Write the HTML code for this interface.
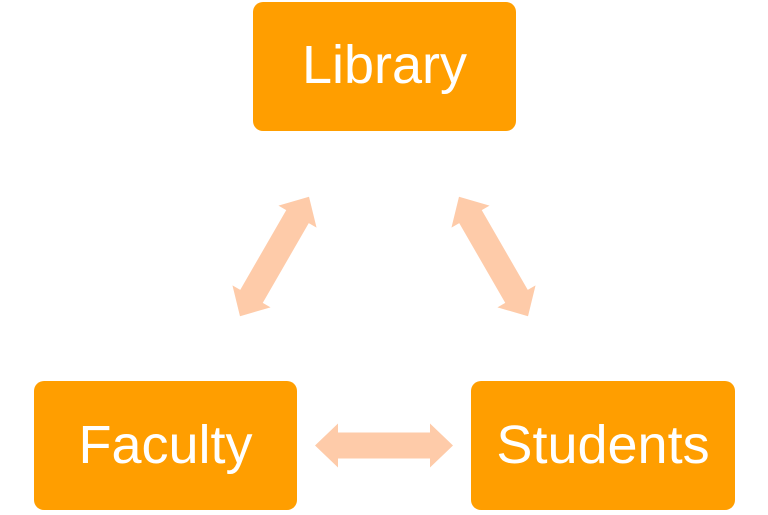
<!DOCTYPE html>
<html><head><meta charset="utf-8"><style>
html,body{margin:0;padding:0;background:#fff;}
body{width:768px;height:515px;position:relative;overflow:hidden;font-family:"Liberation Sans",sans-serif;}
.b{position:absolute;background:#FF9E00;border-radius:10px;color:#fff;font-size:54px;text-align:center;}
.b span{position:absolute;left:0;right:0;}
</style></head><body>
<div class="b" style="left:253px;top:2px;width:263px;height:129px;"><span style="top:32px;">Library</span></div>
<div class="b" style="left:34px;top:381px;width:263px;height:129px;"><span style="top:33px;">Faculty</span></div>
<div class="b" style="left:471px;top:381px;width:264px;height:129px;"><span style="top:33px;">Students</span></div>
<svg width="768" height="515" style="position:absolute;left:0;top:0;">
<defs><polygon id="a" points="-69,0 -46,-22 -46,-13 46,-13 46,-22 69,0 46,22 46,13 -46,13 -46,22" fill="#FECBA9"/></defs>
<use href="#a" transform="translate(384,445.5)"/>
<use href="#a" transform="translate(274.5,256.5) rotate(-60)"/>
<use href="#a" transform="translate(493.5,256.5) rotate(60)"/>
</svg>
</body></html>
